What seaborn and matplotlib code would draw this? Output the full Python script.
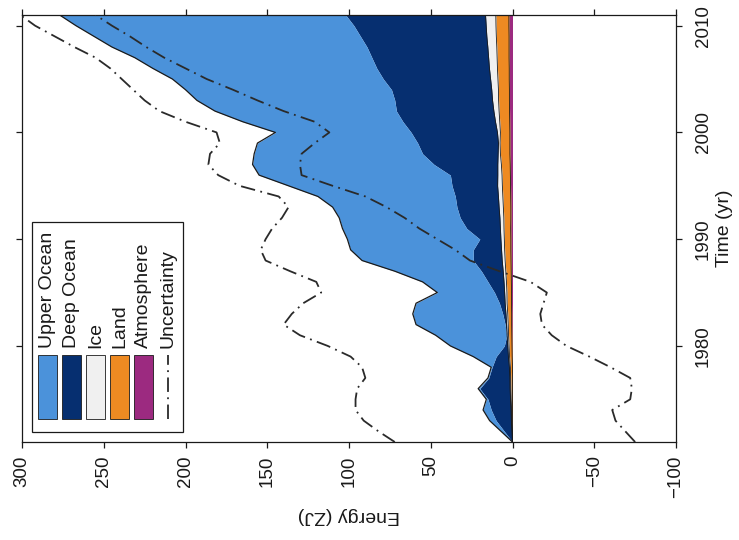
import numpy as np
import pandas as pd
import matplotlib
matplotlib.use("Agg")
import matplotlib.pyplot as plt
from matplotlib.patches import Rectangle
from matplotlib.lines import Line2D
import seaborn as sns

# ---------------- data (ZJ, relative to 1971) ----------------
years = list(range(1971, 2012))

upper_ocean = [0, 2, 4, 5, 1, 1, 0.5, 0.5, 14, 33,
               43.5, 54.5, 55, 51, 35, 40, 53, 68, 75, 81,
               76, 74, 76, 84, 100, 117, 111, 103, 98, 83,
               98, 111, 121, 126, 129, 137, 145, 156, 163, 170,
               175]
deep_ocean = [0, 4.7, 9.3, 12.1, 13.8, 18.5, 12.9, 10.6, 7.5, 2.1,
              0.2, 0.9, 2.0, 3.5, 6.2, 9.8, 13.3, 17.7, 17.3, 12.9,
              20.6, 24.3, 25.8, 26.4, 27.9, 29.0, 39.0, 46.2, 49.4, 52.8,
              56.6, 59.6, 59.8, 61.3, 65.6, 68.9, 71.4, 73.9, 77.3, 80.9,
              85.5]
ice = [0.0, 0.1, 0.2, 0.3, 0.4, 0.5, 0.5, 0.6, 0.7, 0.8,
       0.9, 1.0, 1.1, 1.2, 1.4, 1.5, 1.6, 1.8, 1.9, 2.1,
       2.2, 2.4, 2.6, 2.7, 2.9, 2.6, 2.2, 1.4, 1.0, 1.8,
       2.6, 3.2, 3.7, 4.1, 4.5, 4.9, 5.2, 5.5, 5.8, 6.0,
       6.3]
land = [0.0, 0.2, 0.5, 0.6, 0.8, 1.0, 1.1, 1.3, 1.6, 1.8,
        2.0, 2.1, 2.4, 2.7, 2.8, 3.0, 3.3, 3.6, 3.8, 4.0,
        4.1, 4.3, 4.6, 4.8, 5.0, 5.1, 5.4, 5.8, 6.0, 5.8,
        6.1, 6.4, 6.6, 6.7, 6.9, 7.2, 7.3, 7.5, 7.8, 7.9,
        8.0]
atmosphere = [0, 0, 0, 0, 0, 0, 0, 0, 0.2, 0.3,
              0.4, 0.5, 0.5, 0.6, 0.6, 0.7, 0.8, 0.9, 1.0, 1.0,
              1.1, 1.0, 1.0, 1.1, 1.2, 1.3, 1.4, 1.6, 1.6, 1.6,
              1.7, 1.8, 1.9, 1.9, 2.0, 2.0, 2.1, 2.1, 2.1, 2.2,
              2.2]
unc_high = [72, 82, 91, 96, 96, 95, 90, 92, 99, 113,
            130, 140, 135, 128, 117, 120, 136, 151, 154, 151,
            147, 141, 137, 143, 167, 180, 186, 185, 179, 181,
            200, 216, 225, 232, 239, 246, 255, 268, 280, 292,
            301]
unc_low = [-75, -69, -63, -61, -72, -73, -72, -60, -47, -33,
           -24, -18, -17, -19, -21, -11, 8, 26, 35, 46,
           57, 66, 77, 90, 110, 129, 130, 129, 121, 112,
           121, 140, 156, 171, 187, 200, 213, 224, 234, 245,
           255]

energy_ticks = [300, 250, 200, 150, 100, 50, 0, -50, -100]
time_ticks = [1980, 1990, 2000, 2010]
legend_labels = ["Upper Ocean", "Deep Ocean", "Ice", "Land", "Atmosphere", "Uncertainty"]

colors = {
    "Upper Ocean": "#4b92da",
    "Deep Ocean": "#062f70",
    "Ice": "#f0f0f0",
    "Land": "#ee8a22",
    "Atmosphere": "#9c2a80",
}
unc_color = "#2a2a2a"
unc_dash = (0, (8, 3, 1, 3))

# ---------------- figure ----------------
sns.set_style("ticks")
plt.rcParams["font.family"] = ["Liberation Sans", "DejaVu Sans"]
plt.rcParams["axes.unicode_minus"] = True

W, H = 739, 540
fig = plt.figure(figsize=(W / 100, H / 100), dpi=100)
fig.patch.set_facecolor("white")
AX_L, AX_R, AX_T, AX_B = 22, 676, 15, 442
ax = fig.add_axes([AX_L / W, 1 - AX_B / H, (AX_R - AX_L) / W, (AX_B - AX_T) / H])

df = pd.DataFrame({
    "year": years,
    "Atmosphere": atmosphere,
    "Land": land,
    "Ice": ice,
    "Deep Ocean": deep_ocean,
    "Upper Ocean": upper_ocean,
    "unc_high": unc_high,
    "unc_low": unc_low,
})

layers = ["Atmosphere", "Land", "Ice", "Deep Ocean", "Upper Ocean"]
cum = df[layers].cumsum(axis=1)
base = np.zeros(len(df))
for name in layers:
    top = cum[name].to_numpy()
    ax.fill_betweenx(df["year"], base, top, color=colors[name], lw=0, zorder=2)
    base = top

for name, lw in [("Atmosphere", 0.6), ("Land", 0.6), ("Ice", 0.6), ("Upper Ocean", 0.9)]:
    ax.plot(cum[name], df["year"], color="#1a1a1a", lw=lw, zorder=3)

for col in ["unc_high", "unc_low"]:
    sns.lineplot(data=df, x=col, y="year", orient="y", estimator=None,
                 color=unc_color, linewidth=1.3, linestyle=unc_dash,
                 ax=ax, zorder=4)

ax.set_xlim(300, -100)
ax.set_ylim(1971, 2011)
ax.set_xticks(energy_ticks)
ax.set_xticklabels([str(v).replace("-", "\u2212") for v in energy_ticks])
ax.set_yticks(time_ticks)
ax.yaxis.tick_right()
ax.tick_params(axis="both", direction="out", length=4.5, width=0.9,
               top=True, bottom=True, left=True, right=True, labelsize=13.5,
               colors="#1a1a1a")
ax.tick_params(axis="x", labelbottom=True, labeltop=False, labelrotation=90, pad=5)
ax.tick_params(axis="y", labelright=True, labelleft=False, labelrotation=90, pad=9)
for lbl in ax.get_yticklabels():
    lbl.set_verticalalignment("center")
for sp in ax.spines.values():
    sp.set_visible(True)
    sp.set_color("#1a1a1a")
    sp.set_linewidth(0.9)

ax.set_xlabel("Energy (ZJ)", rotation=180, fontsize=14, labelpad=7, color="#1a1a1a")
ax.yaxis.set_label_position("right")
ax.set_ylabel("Time (yr)", rotation=90, fontsize=14, labelpad=3, color="#1a1a1a")

# ---------------- legend (rotated, drawn by hand) ----------------
def axf(px, py):
    return ((px - AX_L) / (AX_R - AX_L), (AX_B - py) / (AX_B - AX_T))

bx, by = axf(32, 432)
ax.add_patch(Rectangle((bx, by), 151 / (AX_R - AX_L), 210 / (AX_B - AX_T),
                       transform=ax.transAxes, facecolor="white",
                       edgecolor="#1a1a1a", lw=0.9, zorder=5))
for i, lab in enumerate(legend_labels):
    cx = 47.5 + 24 * i
    if lab in colors:
        x0, y0 = axf(cx - 9.5, 419)
        ax.add_patch(Rectangle((x0, y0), 19 / (AX_R - AX_L), 64 / (AX_B - AX_T),
                               transform=ax.transAxes, facecolor=colors[lab],
                               edgecolor="#1a1a1a", lw=0.6, zorder=6))
    else:
        xa, ya = axf(cx, 419)
        _, yb = axf(cx, 355)
        ax.add_line(Line2D([xa, xa], [ya, yb], transform=ax.transAxes,
                           color=unc_color, lw=1.3, linestyle=unc_dash, zorder=6))
    tx, ty = axf(cx, 348)
    ax.text(tx, ty, lab, rotation=90, ha="center", va="bottom", fontsize=14,
            color="#1a1a1a", transform=ax.transAxes, zorder=6)

fig.savefig("out.png", dpi=100, facecolor="white")
